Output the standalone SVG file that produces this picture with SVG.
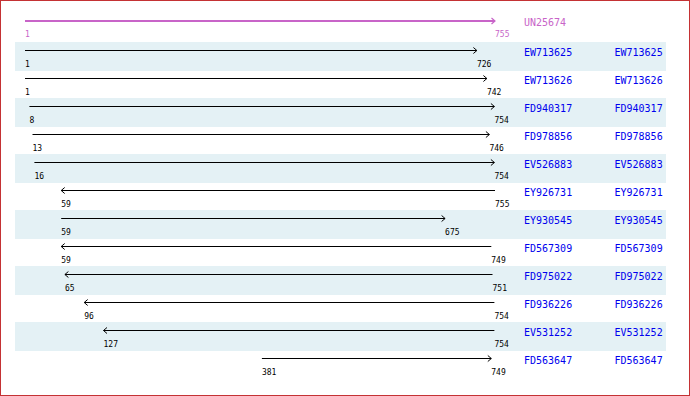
<svg xmlns="http://www.w3.org/2000/svg" width="690" height="396" viewBox="0 0 690 396">
<defs>
<marker id="ah" markerUnits="userSpaceOnUse" markerWidth="10" markerHeight="10" refX="5" refY="5" orient="auto" overflow="visible">
<path d="M1.5,2 L5,5 L1.5,8" fill="none" stroke="#000" stroke-width="1"/>
</marker>
<marker id="ahm" markerUnits="userSpaceOnUse" markerWidth="10" markerHeight="10" refX="5" refY="5" orient="auto" overflow="visible">
<path d="M1.5,2 L5,5 L1.5,8" fill="none" stroke="#c864c8" stroke-width="1.2"/>
</marker>
</defs>
<style>
.stripe{fill:#e4f1f5}
.ln{stroke:#000;stroke-width:1;fill:none;marker-end:url(#ah)}
.lnm{stroke:#c864c8;stroke-width:2;fill:none;marker-end:url(#ahm)}
.pos{font-family:"DejaVu Sans Mono",monospace;font-size:8px;fill:#000}
.posm{font-family:"DejaVu Sans Mono",monospace;font-size:8px;fill:#c864c8}
.nm{font-family:"DejaVu Sans Mono",monospace;font-size:10px;fill:#0000ee}
.nmm{font-family:"DejaVu Sans Mono",monospace;font-size:10px;fill:#c864c8}
</style>
<rect x="0.5" y="0.5" width="689" height="395" fill="#fff" stroke="#c43234" stroke-width="1"/>
<g id="stripes">
<rect class="stripe" x="15" y="42" width="651" height="29"/>
<rect class="stripe" x="15" y="98" width="651" height="29"/>
<rect class="stripe" x="15" y="154" width="651" height="29"/>
<rect class="stripe" x="15" y="210" width="651" height="29"/>
<rect class="stripe" x="15" y="266" width="651" height="29"/>
<rect class="stripe" x="15" y="322" width="651" height="29"/>
</g>
<g id="connectors">
<line class="lnm" x1="25" y1="21" x2="495" y2="21"/>
<line class="ln" x1="25" y1="50.5" x2="476.9" y2="50.5"/>
<line class="ln" x1="25" y1="78.5" x2="486.9" y2="78.5"/>
<line class="ln" x1="29.4" y1="106.5" x2="494.4" y2="106.5"/>
<line class="ln" x1="32.5" y1="134.5" x2="489.4" y2="134.5"/>
<line class="ln" x1="34.4" y1="162.5" x2="494.4" y2="162.5"/>
<line class="ln" x1="495" y1="190.5" x2="61.2" y2="190.5"/>
<line class="ln" x1="61.2" y1="218.5" x2="445.1" y2="218.5"/>
<line class="ln" x1="491.3" y1="246.5" x2="61.2" y2="246.5"/>
<line class="ln" x1="492.5" y1="274.5" x2="64.9" y2="274.5"/>
<line class="ln" x1="494.4" y1="302.5" x2="84.2" y2="302.5"/>
<line class="ln" x1="494.4" y1="330.5" x2="103.5" y2="330.5"/>
<line class="ln" x1="261.9" y1="358.5" x2="491.3" y2="358.5"/>
</g>
<g id="UN25674">
<text class="posm" x="25" y="36.5">1</text>
<text class="posm" x="495" y="36.5">755</text>
<text class="nmm" x="524" y="26">UN25674</text>
</g>
<g id="EW713625">
<text class="pos" x="25" y="67">1</text>
<text class="pos" x="476.9" y="67">726</text>
<text class="nm" x="524" y="55.5">EW713625</text>
<text class="nm" x="614.5" y="55.5">EW713625</text>
</g>
<g id="EW713626">
<text class="pos" x="25" y="95">1</text>
<text class="pos" x="486.9" y="95">742</text>
<text class="nm" x="524" y="83.5">EW713626</text>
<text class="nm" x="614.5" y="83.5">EW713626</text>
</g>
<g id="FD940317">
<text class="pos" x="29.4" y="123">8</text>
<text class="pos" x="494.4" y="123">754</text>
<text class="nm" x="524" y="111.5">FD940317</text>
<text class="nm" x="614.5" y="111.5">FD940317</text>
</g>
<g id="FD978856">
<text class="pos" x="32.5" y="151">13</text>
<text class="pos" x="489.4" y="151">746</text>
<text class="nm" x="524" y="139.5">FD978856</text>
<text class="nm" x="614.5" y="139.5">FD978856</text>
</g>
<g id="EV526883">
<text class="pos" x="34.4" y="179">16</text>
<text class="pos" x="494.4" y="179">754</text>
<text class="nm" x="524" y="167.5">EV526883</text>
<text class="nm" x="614.5" y="167.5">EV526883</text>
</g>
<g id="EY926731">
<text class="pos" x="61.2" y="207">59</text>
<text class="pos" x="495" y="207">755</text>
<text class="nm" x="524" y="195.5">EY926731</text>
<text class="nm" x="614.5" y="195.5">EY926731</text>
</g>
<g id="EY930545">
<text class="pos" x="61.2" y="235">59</text>
<text class="pos" x="445.1" y="235">675</text>
<text class="nm" x="524" y="223.5">EY930545</text>
<text class="nm" x="614.5" y="223.5">EY930545</text>
</g>
<g id="FD567309">
<text class="pos" x="61.2" y="263">59</text>
<text class="pos" x="491.3" y="263">749</text>
<text class="nm" x="524" y="251.5">FD567309</text>
<text class="nm" x="614.5" y="251.5">FD567309</text>
</g>
<g id="FD975022">
<text class="pos" x="64.9" y="291">65</text>
<text class="pos" x="492.5" y="291">751</text>
<text class="nm" x="524" y="279.5">FD975022</text>
<text class="nm" x="614.5" y="279.5">FD975022</text>
</g>
<g id="FD936226">
<text class="pos" x="84.2" y="319">96</text>
<text class="pos" x="494.4" y="319">754</text>
<text class="nm" x="524" y="307.5">FD936226</text>
<text class="nm" x="614.5" y="307.5">FD936226</text>
</g>
<g id="EV531252">
<text class="pos" x="103.5" y="347">127</text>
<text class="pos" x="494.4" y="347">754</text>
<text class="nm" x="524" y="335.5">EV531252</text>
<text class="nm" x="614.5" y="335.5">EV531252</text>
</g>
<g id="FD563647">
<text class="pos" x="261.9" y="375">381</text>
<text class="pos" x="491.3" y="375">749</text>
<text class="nm" x="524" y="363.5">FD563647</text>
<text class="nm" x="614.5" y="363.5">FD563647</text>
</g>
</svg>
